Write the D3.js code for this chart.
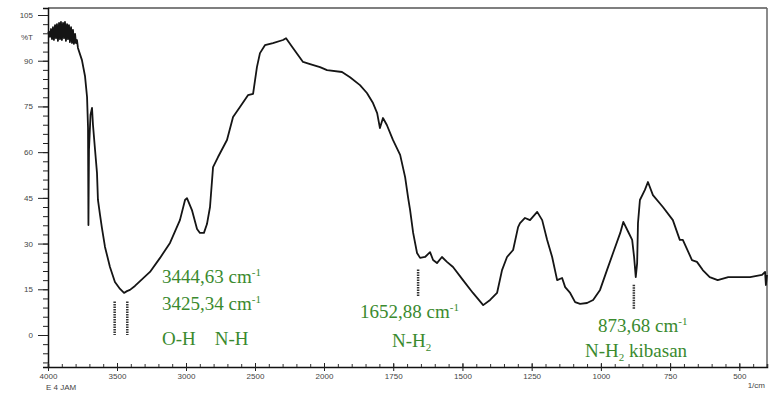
<!DOCTYPE html>
<html>
<head>
<meta charset="utf-8">
<script src="https://cdn.jsdelivr.net/npm/d3@7/dist/d3.min.js"></script>
<style>
  html, body { margin: 0; padding: 0; background: #fff; }
  svg { display: block; }
  .tick-label { font-family: "Liberation Sans", Arial, sans-serif; font-size: 8px; fill: #444; }
  .note { font-family: "Liberation Serif", "Times New Roman", serif; font-size: 19px; fill: #3a8a2e; }
</style>
</head>
<body>
<svg id="chart" width="772" height="396"></svg>
<script>
// FTIR spectrum: wavenumber (1/cm) and transmittance (%T)
const wavenumber = [
  4000, 3993, 3986, 3978, 3971, 3964, 3957, 3949, 3942, 3935, 3928, 3920, 3913, 3906, 3899,
  3891, 3884, 3877, 3870, 3862, 3855, 3848, 3841, 3833, 3826, 3819, 3812, 3804, 3797, 3790,
  3783, 3754, 3732, 3717, 3710, 3707, 3703, 3692, 3681, 3674, 3659, 3645, 3638, 3623, 3609,
  3587, 3551, 3515, 3478, 3449, 3428, 3406, 3370, 3333, 3261, 3188, 3116, 3044, 3007, 2993,
  2957, 2920, 2899, 2870, 2848, 2826, 2804, 2768, 2703, 2659, 2609, 2551, 2514, 2486, 2464,
  2428, 2370, 2297, 2275, 2225, 2152, 2101, 2029, 1989, 1935, 1906, 1870, 1845, 1823, 1808,
  1798, 1787, 1773, 1751, 1725, 1707, 1696, 1689, 1678, 1664, 1653, 1635, 1617, 1606, 1592,
  1574, 1556, 1534, 1498, 1462, 1425, 1400, 1375, 1357, 1339, 1317, 1299, 1292, 1274, 1256,
  1230, 1212, 1194, 1176, 1158, 1140, 1129, 1111, 1093, 1075, 1050, 1028, 1003, 978, 956,
  930, 919, 901, 887, 880, 874, 869, 866, 859, 841, 830, 812, 776, 740, 715,
  704, 671, 653, 632, 607, 578, 540, 497, 461, 418, 407, 404, 400
];
const transmittance = [
  99.1, 99.5, 97.8, 100.4, 97.1, 101.0, 96.8, 101.7, 97.4, 102.0, 96.5, 102.4, 97.1, 102.7, 96.8,
  102.4, 97.4, 102.7, 96.5, 102.0, 97.1, 101.7, 96.1, 101.0, 95.8, 100.1, 95.5, 98.8, 95.8, 96.8,
  94.2, 90.2, 85.0, 78.1, 68.2, 36.1, 60.7, 72.2, 74.5, 68.9, 60.7, 53.2, 44.3, 39.4, 35.1,
  28.9, 22.3, 17.4, 15.1, 13.8, 14.4, 14.8, 16.1, 17.7, 20.7, 25.3, 30.2, 37.7, 44.3, 44.9,
  41.0, 34.8, 33.5, 33.5, 36.4, 42.0, 55.1, 58.4, 64.0, 71.5, 74.8, 78.7, 79.1, 87.9, 92.5,
  95.1, 95.8, 96.8, 97.4, 94.2, 89.6, 88.9, 87.9, 86.9, 86.3, 84.6, 82.0, 79.4, 76.1, 72.8,
  67.9, 71.2, 68.9, 64.0, 59.1, 51.8, 44.9, 41.0, 33.5, 26.9, 25.3, 25.6, 27.2, 24.6, 23.6,
  25.6, 24.0, 22.3, 18.0, 13.8, 9.8, 11.5, 13.8, 21.3, 25.6, 27.9, 35.4, 36.7, 38.4, 37.7,
  40.4, 37.7, 31.2, 25.6, 18.0, 18.7, 15.7, 13.8, 10.8, 10.2, 10.5, 11.5, 14.8, 21.3, 26.9,
  33.5, 37.1, 33.8, 31.2, 25.6, 19.0, 23.6, 36.7, 44.3, 47.6, 50.2, 45.9, 42.0, 37.7, 31.2,
  31.2, 24.6, 24.0, 21.3, 19.0, 18.0, 19.0, 19.0, 19.0, 19.7, 20.7, 16.4, 19.7
];

const xTickValues = [4000, 3500, 3000, 2500, 2000, 1750, 1500, 1250, 1000, 750, 500];
const yTickValues = [105, 90, 75, 60, 45, 30, 15, 0];
const peakWavenumbers = [3444.63, 3425.34, 1652.88, 873.68];

const svg = d3.select("#chart");

// Instrument-style axis: 4000-2000 compressed, 2000-400 expanded
const x = d3.scaleLinear().domain([4000, 2000, 400]).range([48, 324, 767]);
const y = d3.scaleLinear().domain([-10.5, 107.3]).range([367, 8]);

// Frame
svg.append("line").attr("x1", 48).attr("x2", 767).attr("y1", 8).attr("y2", 8)
  .attr("stroke", "#555").attr("stroke-width", 1.5);
svg.append("line").attr("x1", 767).attr("x2", 767).attr("y1", 8).attr("y2", 367)
  .attr("stroke", "#666").attr("stroke-width", 1.5);

// Y axis with minor ticks every 3 %T
const yMinor = d3.range(-9, 106, 3);
const gy = svg.append("g").attr("transform", "translate(48,0)");
gy.call(d3.axisLeft(y).tickValues(yMinor).tickSize(5).tickFormat(""));
gy.selectAll("line").attr("stroke", "#222");
const gyMajor = svg.append("g").attr("transform", "translate(48,0)")
  .call(d3.axisLeft(y).tickValues(yTickValues).tickSize(10).tickPadding(5).tickFormat(d3.format("d")));
gyMajor.selectAll("line").attr("stroke", "#222");
gyMajor.selectAll("text").attr("class", "tick-label").attr("font-family", null).attr("font-size", null);
gy.select(".domain").attr("stroke", "#111").attr("stroke-width", 1.5);
gyMajor.select(".domain").remove();
svg.append("text").attr("class", "tick-label").attr("x", 33).attr("y", y(97.5))
  .attr("dy", "0.32em").attr("text-anchor", "end").text("%T");

// X axis: minor ticks every 100 above 2000, every 50 below
const xMinor = d3.range(4000, 2000, -100).concat(d3.range(2000, 399, -50));
const gx = svg.append("g").attr("transform", "translate(0,367)");
gx.call(d3.axisTop(x).tickValues(xMinor).tickSize(3).tickFormat(""));
gx.selectAll("line").attr("stroke", "#333");
gx.select(".domain").attr("stroke", "#111").attr("stroke-width", 1.5);
const gxMajor = svg.append("g").attr("transform", "translate(0,363)")
  .call(d3.axisBottom(x).tickValues(xTickValues).tickSize(8).tickPadding(2).tickFormat(d3.format("d")));
gxMajor.select(".domain").remove();
gxMajor.selectAll("line").attr("stroke", "#222");
gxMajor.selectAll("text").attr("class", "tick-label").attr("font-family", null).attr("font-size", null);
svg.append("text").attr("class", "tick-label").attr("x", 765).attr("y", 388)
  .attr("text-anchor", "end").text("1/cm");
svg.append("text").attr("class", "tick-label").attr("x", 46).attr("y", 390).text("E 4 JAM");

// Spectrum trace
const points = wavenumber.map((w, i) => [w, transmittance[i]]);
svg.append("path").datum(points)
  .attr("fill", "none").attr("stroke", "#151515").attr("stroke-width", 1.8)
  .attr("stroke-linejoin", "round")
  .attr("d", d3.line().x(d => x(d[0])).y(d => y(d[1])));

// Peak pick markers below each labelled band
const markerSpans = [
  { wn: peakWavenumbers[0], dx: -10, top: 11, bottom: 0 },
  { wn: peakWavenumbers[1], dx: 0, top: 11, bottom: 0 },
  { wn: peakWavenumbers[2], dx: -2, top: 21.5, bottom: 12.5 },
  { wn: peakWavenumbers[3], dx: -2, top: 16.5, bottom: 8.5 }
];
markerSpans.forEach(m => {
  svg.append("line")
    .attr("x1", x(m.wn) + m.dx).attr("x2", x(m.wn) + m.dx)
    .attr("y1", y(m.top)).attr("y2", y(m.bottom))
    .attr("stroke", "#333").attr("stroke-width", 2.5).attr("stroke-dasharray", "1.5,1");
});

// Band assignments
function note(xp, yp, parts) {
  const t = svg.append("text").attr("class", "note").attr("x", xp).attr("y", yp);
  parts.forEach(p => {
    const s = t.append("tspan").text(p.t);
    if (p.sup) s.attr("font-size", 11).attr("dy", -7);
    if (p.sub) s.attr("font-size", 11).attr("dy", 4);
    if (p.back) s.attr("dy", p.back);
  });
}
const fmt = v => v.toFixed(2).replace(".", ",");
note(162, 283, [{ t: fmt(peakWavenumbers[0]) + " cm" }, { t: "-1", sup: true }]);
note(162, 310, [{ t: fmt(peakWavenumbers[1]) + " cm" }, { t: "-1", sup: true }]);
note(162, 345, [{ t: "O-H\u00a0\u00a0\u00a0\u00a0N-H" }]);
note(360, 318, [{ t: fmt(peakWavenumbers[2]) + " cm" }, { t: "-1", sup: true }]);
note(392, 347, [{ t: "N-H" }, { t: "2", sub: true }]);
note(598, 332, [{ t: fmt(peakWavenumbers[3]) + " cm" }, { t: "-1", sup: true }]);
note(585, 357, [{ t: "N-H" }, { t: "2", sub: true }, { t: " kibasan", back: -4 }]);
</script>
</body>
</html>
